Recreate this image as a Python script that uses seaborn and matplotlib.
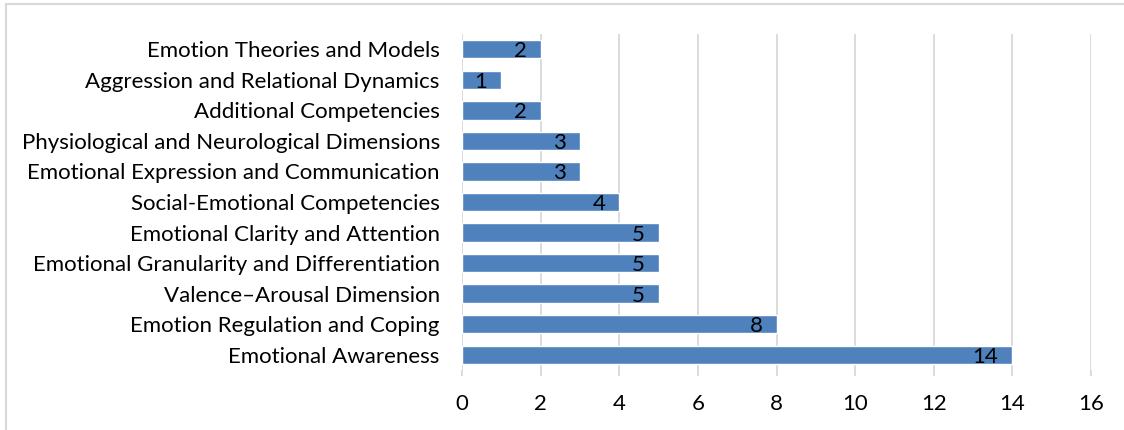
import matplotlib
matplotlib.use("Agg")
import matplotlib.pyplot as plt
import seaborn as sns
import pandas as pd
from matplotlib.lines import Line2D

categories = [
    "Emotion Theories and Models",
    "Aggression and Relational Dynamics",
    "Additional Competencies",
    "Physiological and Neurological Dimensions",
    "Emotional Expression and Communication",
    "Social-Emotional Competencies",
    "Emotional Clarity and Attention",
    "Emotional Granularity and Differentiation",
    "Valence\u2013Arousal Dimension",
    "Emotion Regulation and Coping",
    "Emotional Awareness",
]
counts = [2, 1, 2, 3, 3, 4, 5, 5, 5, 8, 14]
x_ticks = [0, 2, 4, 6, 8, 10, 12, 14, 16]

df = pd.DataFrame({"category": categories, "count": counts})

sns.set_theme(style="white")
plt.rcParams["font.family"] = ["Lato", "DejaVu Sans"]

fig = plt.figure(figsize=(11.24, 4.30), dpi=100)
ax = fig.add_axes([462/1124, 1-370/430, (1091-462)/1124, (370-34)/430])

sns.barplot(data=df, x="count", y="category", orient="h", color="#4F81BD",
            saturation=1, width=0.6, ax=ax, zorder=3)

ax.set_xlim(0, 16)
ax.set_ylim(len(categories)-0.5, -0.5)
ax.set_xticks(x_ticks)
ax.set_xticklabels([str(t) for t in x_ticks])
ax.grid(axis="x", color="#D9D9D9", linewidth=1.3, zorder=0)
ax.grid(axis="y", visible=False)
for s in ax.spines.values():
    s.set_visible(False)
ax.set_xlabel("")
ax.set_ylabel("")
ax.tick_params(axis="x", which="both", bottom=True, length=4, width=1.3,
               color="#D9D9D9", pad=13, labelsize=16, labelcolor="black")
ax.tick_params(axis="y", left=False, pad=10, labelsize=16, labelcolor="black")

for i, v in enumerate(counts):
    ax.annotate(str(v), xy=(v, i), xytext=(-14, -2), textcoords="offset pixels",
                ha="right", va="center", fontsize=16, color="black", zorder=4)

# outer frame (top and left visible)
fig.add_artist(Line2D([6/1124, 6/1124], [0, 1-4/430], transform=fig.transFigure,
                      color="#D9D9D9", linewidth=1.5))
fig.add_artist(Line2D([6/1124, 1], [1-4/430, 1-4/430], transform=fig.transFigure,
                      color="#D9D9D9", linewidth=1.5))

fig.savefig("out.png", dpi=100)
